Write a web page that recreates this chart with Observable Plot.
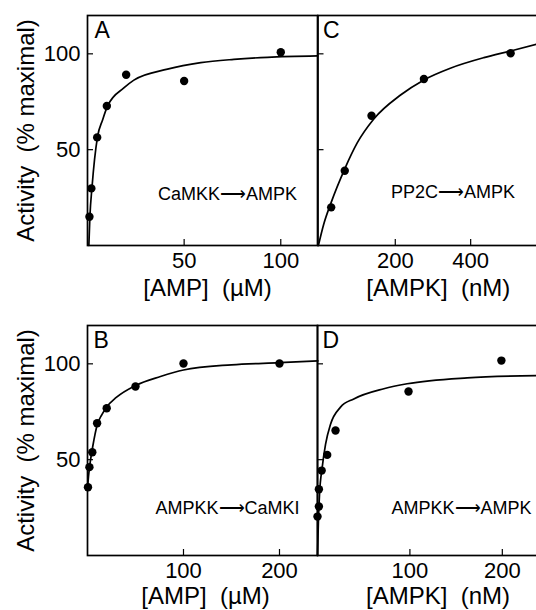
<!DOCTYPE html>
<html>
<head>
<meta charset="utf-8">
<script src="https://cdn.jsdelivr.net/npm/d3@7"></script>
<script src="https://cdn.jsdelivr.net/npm/@observablehq/plot@0.6"></script>
<style>
  body { margin: 0; background: #fff; }
  #chart { position: relative; width: 536px; height: 610px; overflow: hidden; background: #fff; }
  #chart svg { position: absolute; }
</style>
</head>
<body>
<div id="chart"></div>
<script>
// ---- Data ----
const yTicks = [50, 100];
const yLabel = "Activity\u00a0\u00a0(% maximal)";

// Panel A: CaMKK -> AMPK vs [AMP]
const ampA = [1, 2, 5, 10, 20, 50, 100];
const actA = [15, 29.8, 56.4, 72.8, 89.1, 85.8, 100.8];
const fitAx = [0.7, 1.24, 2.3, 5.2, 7.8, 10.4, 18.8, 24, 41.4, 58.6, 75.7, 93.1, 119];
const fitAy = [0, 15, 30, 56.8, 65.5, 72.8, 82.2, 86.3, 92, 95.4, 97.1, 98.2, 98.9];
const ticksA = [50, 100];

// Panel B: AMPKK -> CaMKI vs [AMP]
const ampB = [0.5, 2, 5, 10, 20, 50, 100, 200];
const actB = [35.6, 46.1, 53.9, 69, 76.8, 88.2, 100.2, 100.2];
const fitBx = [0, 1, 2.5, 5.5, 10, 15, 20, 30, 50, 76, 100, 150, 200, 240];
const fitBy = [35, 41, 47.5, 57, 68, 73.5, 77.5, 82.5, 88.7, 93.4, 96.8, 99.5, 100.6, 101.5];
const ticksB = [100, 200];

// Panel C: PP2C -> AMPK vs [AMPK]
const ampkC = [30, 66, 137, 276, 506];
const actC = [19.9, 39, 67.7, 86.9, 100.3];
const fitCx = [-4, 10, 30, 66, 99, 143, 214, 276, 346, 435, 506, 575];
const fitCy = [0, 11, 22.5, 40, 53.5, 66, 78.5, 86.4, 92.5, 98, 101.5, 105];
const ticksC = [200, 400];

// Panel D: AMPKK -> AMPK vs [AMPK]
const ampkD = [0, 1.5, 1.5, 4.5, 10.5, 19.5, 98.5, 199];
const actD = [20.3, 25.6, 34.6, 44.3, 52.5, 65.2, 85.6, 101.7];
const fitDx = [0, 1, 2.2, 5.1, 8.7, 14.1, 24.9, 39.3, 71.8, 97, 162, 237];
const fitDy = [0, 18, 32, 46, 58, 68.5, 77.4, 81.7, 87, 89.6, 92.7, 93.9];
const ticksD = [100, 200];

const FONT = "'Liberation Sans', Arial, Helvetica, sans-serif";

function panel(cfg) {
  const pts = cfg.xs.map((x, i) => ({x, y: cfg.ys[i]}));
  const fit = cfg.fitX.map((x, i) => ({x, y: cfg.fitY[i]}));
  const marks = [
    Plot.line(fit, {x: "x", y: "y", curve: "monotone-x", stroke: "#000", strokeWidth: 1.7}),
    Plot.dot(pts, {x: "x", y: "y", r: 4.2, fill: "#000", stroke: null}),
    Plot.frame({stroke: "#000", strokeWidth: 1.7}),
    Plot.axisX(cfg.xTicks, {tickSize: 6, dy: -6, text: null, label: null, strokeWidth: 1.2}),
    Plot.axisY(yTicks, {tickSize: 6, dx: 6, text: null, label: null, strokeWidth: 1.2}),
    Plot.axisX(cfg.xTicks, {tickSize: 0, tickPadding: 7, fontSize: 22, label: null, fill: "#000"}),
    Plot.text([cfg.xLabel], {frameAnchor: "bottom", textAnchor: "middle", lineAnchor: "bottom", dx: cfg.xLabelDx, dy: cfg.xLabelDy, fontSize: 24, fill: "#000"}),
    Plot.text([cfg.letter], {frameAnchor: "top-left", textAnchor: "start", lineAnchor: "bottom", dx: cfg.letterDx, dy: 22, fontSize: 23, fill: "#000"}),
    Plot.text([cfg.note], {frameAnchor: "bottom-left", textAnchor: "middle", lineAnchor: "bottom", dx: cfg.noteDx, dy: cfg.noteDy, fontSize: 18, fill: "#000"})
  ];
  if (cfg.showY) {
    marks.push(
      Plot.axisY(yTicks, {tickSize: 0, tickPadding: 7, fontSize: 22, label: null, fill: "#000"}),
      Plot.text([yLabel], {frameAnchor: "left", textAnchor: "middle", rotate: -90, lineAnchor: "bottom", dx: -54, fontSize: 24, fill: "#000"})
    );
  }
  const svg = Plot.plot({
    width: cfg.width,
    height: cfg.height,
    marginLeft: cfg.marginLeft,
    marginRight: cfg.marginRight,
    marginTop: 15,
    marginBottom: cfg.height - 15 - 230,
    x: {domain: cfg.xDomain},
    y: {domain: [0, 120]},
    style: {fontFamily: FONT, fontSize: "22px", color: "#000", background: "transparent", overflow: "visible", maxWidth: "none"},
    marks
  });
  svg.style.left = cfg.left + "px";
  svg.style.top = cfg.top + "px";
  document.getElementById("chart").appendChild(svg);
}

panel({left: 0, top: 0, width: 318, height: 305, marginLeft: 87, marginRight: 1,
  xDomain: [0, 119], xs: ampA, ys: actA, fitX: fitAx, fitY: fitAy, xTicks: ticksA,
  xLabel: "[AMP]\u00a0\u00a0(\u00b5M)", xLabelDx: 5, xLabelDy: 50, letter: "A", letterDx: 7,
  note: "CaMKK\u27f6AMPK", noteDx: 140, noteDy: -46, showY: true});

panel({left: 230, top: 0, width: 330, height: 305, marginLeft: 87.5, marginRight: 2,
  xDomain: [-5, 633], xs: ampkC, ys: actC, fitX: fitCx, fitY: fitCy, xTicks: ticksC,
  xLabel: "[AMPK]\u00a0\u00a0(nM)", xLabelDx: 0, xLabelDy: 50, letter: "C", letterDx: 5,
  note: "PP2C\u27f6AMPK", noteDx: 135, noteDy: -48, showY: false});

panel({left: 0, top: 310, width: 318, height: 300, marginLeft: 87, marginRight: 1,
  xDomain: [0, 239.6], xs: ampB, ys: actB, fitX: fitBx, fitY: fitBy, xTicks: ticksB,
  xLabel: "[AMP]\u00a0\u00a0(\u00b5M)", xLabelDx: 3, xLabelDy: 48, letter: "B", letterDx: 6,
  note: "AMPKK\u27f6CaMKI", noteDx: 140, noteDy: -42, showY: true});

panel({left: 230, top: 310, width: 330, height: 300, marginLeft: 87, marginRight: 2,
  xDomain: [0, 260.8], xs: ampkD, ys: actD, fitX: fitDx, fitY: fitDy, xTicks: ticksD,
  xLabel: "[AMPK]\u00a0\u00a0(nM)", xLabelDx: 0, xLabelDy: 48, letter: "D", letterDx: 5,
  note: "AMPKK\u27f6AMPK", noteDx: 144, noteDy: -42, showY: false});
</script>
</body>
</html>
